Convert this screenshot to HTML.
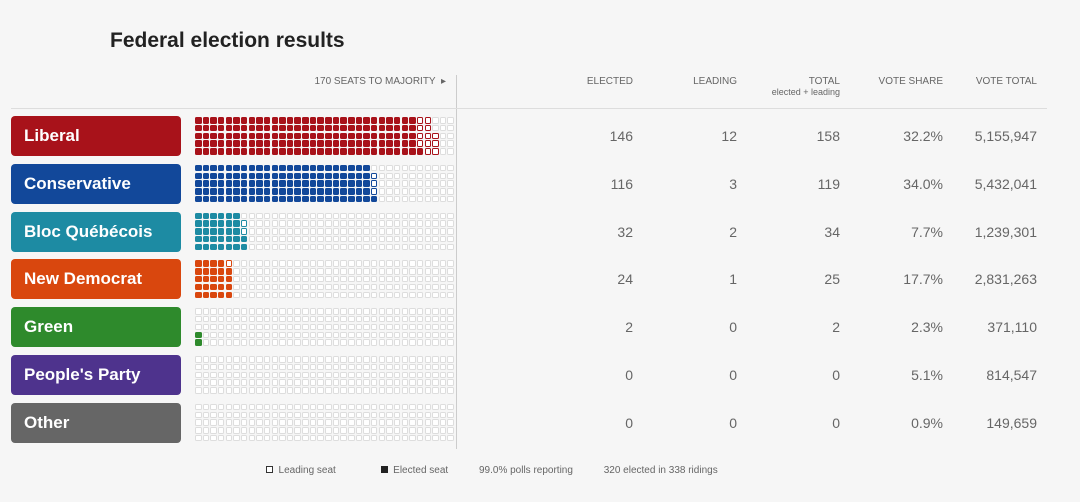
<!DOCTYPE html>
<html><head><meta charset="utf-8"><style>
body{margin:0;width:1080px;height:502px;background:#f6f6f6;font-family:"Liberation Sans",sans-serif;position:relative;overflow:hidden}
.a{position:absolute}
.h{font-size:10px;color:#666;text-align:right}
.lab{position:absolute;left:11px;width:170px;height:40px;border-radius:4px;color:#fff;font-weight:bold;font-size:17px;line-height:40px;padding-left:13px;box-sizing:border-box}
.num{position:absolute;font-size:14px;color:#666;text-align:right;width:80px}
</style></head><body>
<div class="a" style="left:110px;top:29px;font-size:21px;font-weight:bold;color:#222">Federal election results</div>
<div class="a h" style="left:250px;top:76px;width:196px">170 SEATS TO MAJORITY &nbsp;▸</div>
<div class="a" style="left:456px;top:75px;width:1px;height:374px;background:#ccc"></div>
<div class="a" style="left:11px;top:108px;width:1036px;height:1px;background:#ddd"></div>
<div class="a h" style="left:553px;top:76px;width:80px">ELECTED</div>
<div class="a h" style="left:657px;top:76px;width:80px">LEADING</div>
<div class="a h" style="left:740px;top:76px;width:100px">TOTAL<br><span style="font-size:9px">elected + leading</span></div>
<div class="a h" style="left:843px;top:76px;width:100px">VOTE SHARE</div>
<div class="a h" style="left:937px;top:76px;width:100px">VOTE TOTAL</div>
<div id="rows"></div>
<div class="a" style="left:266px;top:465px;font-size:10px;color:#666;white-space:nowrap">
<span style="display:inline-block;width:5px;height:5px;border:1px solid #333;background:#fff"></span>&nbsp; Leading seat
<span style="display:inline-block;width:7px;height:7px;background:#222;margin-left:42px"></span>&nbsp; Elected seat
<span style="margin-left:28px">99.0% polls reporting</span>
<span style="margin-left:28px">320 elected in 338 ridings</span></div>
<script>
const parties=["Liberal","Conservative","Bloc Québécois","New Democrat","Green","People's Party","Other"];
const colors=["#a8121a","#12489a","#1d8ba3","#d9470e","#2e8a2c","#4e338d","#666666"];
const elected=[146,116,32,24,2,0,0];
const leading=[12,3,2,1,0,0,0];
const voteShare=["32.2%","34.0%","7.7%","17.7%","2.3%","5.1%","0.9%"];
const voteTotal=["5,155,947","5,432,041","1,239,301","2,831,263","371,110","814,547","149,659"];
const root=document.getElementById('rows');
parties.forEach((p,i)=>{
 const y=116+i*47.8;
 const l=document.createElement('div');l.className='lab';l.style.top=y+'px';l.style.background=colors[i];l.textContent=p;
 
 
 root.appendChild(l);
 const g=document.createElement('div');g.className='a';g.style.left='195px';g.style.top=(y+1)+'px';
 
 
 for(let k=0;k<170;k++){
  const c=document.createElement('div');c.className='a';
  const col=Math.floor(k/5),row=4-k%5;
  c.style.left=(col*7.65)+'px';c.style.top=(row*7.8)+'px';c.style.width='6.5px';c.style.height='6.5px';c.style.borderRadius='1.5px';c.style.boxSizing='border-box';
  if(k<elected[i]){c.style.background=colors[i];}
  else if(k<elected[i]+leading[i]){c.style.background='#fff';c.style.border='1.3px solid '+colors[i];}
  else{c.style.background='#fff';c.style.border='1px solid #ddd';}
  
  
  g.appendChild(c);
 }
 root.appendChild(g);
 const vals=[elected[i],leading[i],elected[i]+leading[i],voteShare[i],voteTotal[i]];
 const xs=[553,657,760,863,957];
 const nm=['elected-value','leading-value','total-value','vote-share-value','vote-total-value'];
 vals.forEach((v,j)=>{const n=document.createElement('div');n.className='num';n.style.left=xs[j]+'px';n.style.top=(y+12)+'px';n.textContent=v;
  
  
  root.appendChild(n);});
});
</script>
</body></html>
